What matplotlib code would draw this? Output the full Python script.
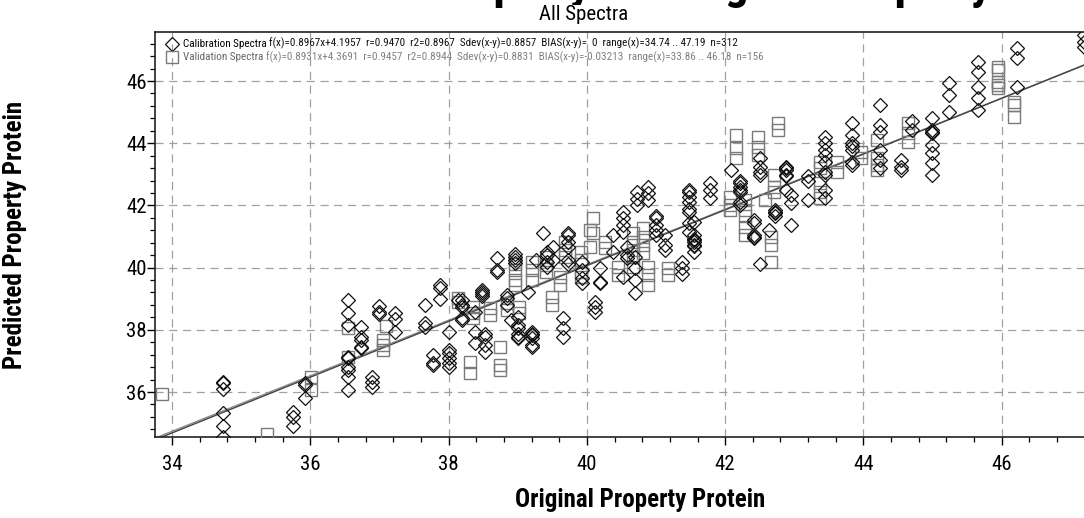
import matplotlib
matplotlib.use("Agg")
import matplotlib.pyplot as plt
import numpy as np
from matplotlib import font_manager
from matplotlib.ticker import MultipleLocator


def has_font(name):
    try:
        font_manager.findfont(name, fallback_to_default=False)
        return True
    except ValueError:
        return False


# prefer a condensed face; fall back to regular Liberation Sans with smaller sizes
narrow = next((f for f in ["Liberation Sans Narrow", "Roboto Condensed", "Open Sans Condensed",
                           "Arial Narrow"] if has_font(f)), None)
if narrow:
    plt.rcParams["font.family"] = [narrow, "Liberation Sans", "DejaVu Sans"]
    fs_tick, fs_leg, fs_lab, fs_sub = 15, 8.0, 18, 15
else:
    plt.rcParams["font.family"] = ["Liberation Sans", "DejaVu Sans"]
    fs_tick, fs_leg, fs_lab, fs_sub = 14, 6.4, 15, 13

# calibration set (diamonds), one line per x column
cal_x = [
    34.74, 34.74, 34.74, 34.74, 34.74, 34.74,
    35.75, 35.75, 35.75,
    35.92, 35.92, 35.92,
    36.55, 36.55, 36.55, 36.55, 36.55, 36.55, 36.55, 36.55, 36.55,
    36.73, 36.73, 36.73, 36.73, 36.73,
    36.89, 36.89, 36.89,
    37.00, 37.00, 37.00,
    37.22, 37.22, 37.22,
    37.66, 37.66, 37.66,
    37.77, 37.77, 37.77,
    37.88, 37.88, 37.88,
    38.01, 38.01, 38.01, 38.01, 38.01, 38.01,
    38.14,
    38.19, 38.19, 38.19, 38.19, 38.19,
    38.38, 38.38, 38.38,
    38.48, 38.48, 38.48, 38.48,
    38.52, 38.52, 38.52, 38.52,
    38.70, 38.70, 38.70,
    38.84, 38.84, 38.84,
    38.90,
    38.96, 38.96, 38.96, 38.96,
    39.00, 39.00, 39.00, 39.00, 39.00, 39.00,
    39.15,
    39.20, 39.20, 39.20, 39.20, 39.20, 39.20,
    39.27,
    39.36,
    39.42, 39.42, 39.42, 39.42,
    39.51, 39.51,
    39.65, 39.65, 39.65,
    39.72, 39.72, 39.72, 39.72, 39.72, 39.72,
    39.93, 39.93, 39.93, 39.93,
    40.12, 40.12, 40.12,
    40.19, 40.19, 40.19,
    40.38, 40.38,
    40.52, 40.52, 40.52, 40.52, 40.52,
    40.58, 40.58, 40.58,
    40.70, 40.70, 40.70, 40.70,
    40.72, 40.72, 40.72,
    40.88, 40.88, 40.88,
    41.00, 41.00, 41.00, 41.00, 41.00,
    41.13, 41.13, 41.13,
    41.37, 41.37, 41.37,
    41.47, 41.47, 41.47, 41.47, 41.47, 41.47, 41.47, 41.47,
    41.55, 41.55, 41.55, 41.55, 41.55, 41.55, 41.55, 41.55,
    41.78, 41.78, 41.78,
    42.09,
    42.22, 42.22, 42.22, 42.22, 42.22, 42.22, 42.22,
    42.42, 42.42, 42.42, 42.42, 42.42,
    42.50,
    42.51, 42.51, 42.51, 42.51,
    42.64,
    42.72, 42.72, 42.72, 42.72,
    42.88, 42.88, 42.88, 42.88, 42.88, 42.88,
    42.95, 42.95, 42.95,
    43.20, 43.20, 43.20,
    43.45, 43.45, 43.45, 43.45, 43.45, 43.45, 43.45, 43.45, 43.45,
    43.84, 43.84, 43.84, 43.84, 43.84, 43.84, 43.84,
    44.24, 44.24, 44.24, 44.24, 44.24, 44.24,
    44.55, 44.55, 44.55,
    44.70, 44.70,
    44.99, 44.99, 44.99, 44.99, 44.99, 44.99, 44.99, 44.99,
    45.23, 45.23, 45.23,
    45.66, 45.66, 45.66, 45.66, 45.66,
    46.22, 46.22, 46.22,
    47.19, 47.19, 47.19,
]
cal_y = [
    36.33, 36.28, 36.09, 35.31, 34.91, 34.56,
    35.37, 35.21, 34.91,
    36.28, 36.23, 35.80,
    38.96, 38.53, 38.15, 37.13, 37.08, 36.81, 36.71, 36.49, 36.06,
    38.10, 37.78, 37.67, 37.46, 37.41,
    36.49, 36.33, 36.17,
    38.77, 38.58, 38.51,
    38.55, 38.34, 37.94,
    38.80, 38.21, 38.10,
    37.19, 36.92, 36.87,
    39.44, 39.33, 38.98,
    37.94, 37.35, 37.24, 37.08, 36.92, 36.81,
    38.95,
    38.96, 38.80, 38.74, 38.38, 38.32,
    38.58, 37.94, 37.56,
    39.28, 39.22, 39.15, 39.10,
    37.78, 37.51, 37.30, 37.88,
    40.30, 39.92, 39.87,
    38.80, 39.12, 39.02,
    38.32,
    40.45, 40.35, 40.25, 40.15,
    38.42, 38.15, 38.05, 37.88, 37.78, 37.73,
    39.22,
    37.94, 37.88, 37.83, 37.73, 37.51, 37.46,
    40.24,
    41.10,
    40.51, 40.40, 40.19, 40.03,
    40.67, 40.24,
    38.38, 38.05, 37.77,
    41.10, 41.05, 40.83, 40.67, 40.24, 40.13,
    40.19, 39.92, 39.67, 39.50,
    38.90, 38.74, 38.58,
    39.98, 39.55, 39.50,
    41.05, 40.50,
    41.80, 41.58, 41.37, 41.15, 39.71,
    40.67, 40.40, 40.30,
    40.35, 39.98, 39.60, 39.17,
    42.44, 42.22, 42.01,
    42.60, 42.39, 42.17,
    41.65, 41.60, 41.21, 41.05, 41.37,
    41.05, 40.73, 40.57,
    40.19, 39.98, 39.81,
    42.49, 42.44, 42.28, 42.12, 41.90, 41.80, 41.42, 41.15,
    40.89, 40.83, 40.92, 40.73, 40.70, 40.51, 41.05, 41.47,
    42.71, 42.49, 42.23,
    43.14,
    42.60, 42.71, 42.49, 42.77, 42.44, 42.12, 42.01,
    41.42, 41.53, 41.05, 41.00, 40.94,
    40.13,
    43.52, 43.25, 43.09, 42.98,
    41.21,
    41.85, 41.80, 41.65, 41.75,
    42.98, 43.25, 43.20, 43.14, 42.93, 42.49,
    42.33, 42.07, 41.37,
    42.93, 42.77, 42.17,
    44.21, 44.00, 43.62, 43.41, 42.98, 43.78, 43.09, 42.49, 42.23,
    44.64, 44.26, 43.90, 43.78, 44.00, 43.41, 43.31,
    45.23, 44.58, 44.37, 43.78, 43.46, 43.20,
    43.46, 43.25, 43.14,
    44.70, 44.43,
    44.80, 44.43, 44.37, 44.32, 43.94, 43.67, 43.35, 42.98,
    45.93, 45.55, 45.01,
    46.62, 46.30, 45.82, 45.44, 45.07,
    47.05, 46.73, 45.82,
    47.48, 47.26, 47.10,
]

# validation set (squares)
val_x = [
    33.86,
    35.37,
    36.01, 36.01,
    36.55, 36.55,
    37.05, 37.05, 37.05,
    37.10,
    38.14, 38.14,
    38.31, 38.31,
    38.35, 38.35, 38.35,
    38.60, 38.60,
    38.74, 38.74, 38.74,
    38.84, 38.84,
    38.96, 38.96, 38.96, 38.96,
    39.02, 39.02,
    39.20, 39.20, 39.20,
    39.41, 39.41, 39.41,
    39.49, 39.49,
    39.61, 39.61,
    39.68, 39.68, 39.68,
    39.92, 39.92, 39.92, 39.92,
    40.04, 40.04,
    40.09, 40.09,
    40.26, 40.26,
    40.45, 40.45,
    40.67, 40.67, 40.67, 40.67, 40.67,
    40.81, 40.81, 40.81, 40.81,
    40.88, 40.88, 40.88,
    41.17, 41.17,
    42.07, 42.07, 42.07,
    42.16, 42.16, 42.16,
    42.28, 42.28, 42.28, 42.28, 42.28,
    42.47, 42.47, 42.47,
    42.58,
    42.66, 42.66, 42.66,
    42.70, 42.70, 42.70,
    42.76, 42.76,
    43.37, 43.37, 43.37, 43.37, 43.37,
    43.61, 43.61,
    43.97, 43.97,
    44.20, 44.20, 44.20, 44.20,
    44.64, 44.64, 44.64,
    45.95, 45.95, 45.95, 45.95, 45.95,
    46.18, 46.18, 46.18,
]
val_y = [
    35.95,
    34.64,
    36.49, 36.06,
    38.05, 37.13,
    37.67, 37.51, 37.35,
    38.13,
    39.02, 38.90,
    36.97, 36.62,
    38.74, 38.53, 38.37,
    38.70, 38.47,
    37.46, 36.87, 36.71,
    38.86, 38.64,
    40.13, 39.92, 39.60, 39.44,
    38.74, 38.53,
    40.19, 39.92, 39.60,
    40.35, 40.08, 39.87,
    39.07, 38.80,
    39.71, 39.44,
    40.83, 40.57, 40.35,
    40.51, 40.24, 39.87, 39.71,
    41.20, 40.67,
    41.58, 41.10,
    40.83, 40.62,
    40.03, 39.76,
    41.10, 40.83, 40.57, 40.35, 40.03,
    41.26, 41.00, 40.73, 40.46,
    40.03, 39.76, 39.44,
    39.98, 39.76,
    42.28, 42.01, 41.85,
    44.26, 43.84, 43.52,
    42.17, 41.85, 41.65, 41.32, 41.05,
    44.21, 43.89, 43.62,
    42.17,
    41.00, 40.73, 40.19,
    42.60, 42.44, 42.97,
    44.64, 44.43,
    42.71, 42.44, 42.23, 43.20, 43.41,
    43.41, 43.09,
    43.73, 43.52,
    44.10, 43.52, 43.30, 43.14,
    44.64, 44.32, 44.05,
    46.46, 46.35, 45.98, 45.87, 45.77,
    45.33, 45.23, 44.85,
]

# fitted lines and statistics for each set
cal_fit = (0.8967, 4.1957)
val_fit = (0.8931, 4.3691)
cal_stats = "f(x)=0.8967x+4.1957  r=0.9470  r2=0.8967  Sdev(x-y)=0.8857  BIAS(x-y)=  0  range(x)=34.74 .. 47.19  n=312"
val_stats = "f(x)=0.8931x+4.3691  r=0.9457  r2=0.8944  Sdev(x-y)=0.8831  BIAS(x-y)=-0.03213  range(x)=33.86 .. 46.18  n=156"

fig = plt.figure(figsize=(10.84, 5.18), dpi=100)
ax = fig.add_axes([155 / 1084, 81 / 518, 965 / 1084, 405 / 518])
ax.set_xlim(33.754, 47.71)
ax.set_ylim(34.553, 47.576)

ax.grid(True, which="major", color="#a0a0a0", linestyle=(0, (6.5, 4.5)), linewidth=0.9)
ax.set_axisbelow(True)

xl = np.array(ax.get_xlim())
ax.plot(xl, val_fit[0] * xl + val_fit[1], color="#8a8a8a", lw=1.0, zorder=2)
ax.plot(xl, cal_fit[0] * xl + cal_fit[1], color="#444444", lw=1.0, zorder=2)

ax.plot(val_x, val_y, linestyle="none", marker="s", markersize=8.2,
        markerfacecolor="none", markeredgecolor="#7a7a7a", markeredgewidth=1.0, zorder=3)
ax.plot(cal_x, cal_y, linestyle="none", marker="D", markersize=6.8,
        markerfacecolor="none", markeredgecolor="#111111", markeredgewidth=0.9, zorder=4)

for s in ["left", "bottom", "top"]:
    ax.spines[s].set_linewidth(1.2)
    ax.spines[s].set_color("#222222")
ax.spines["right"].set_visible(False)

ax.xaxis.set_major_locator(MultipleLocator(2))
ax.xaxis.set_minor_locator(MultipleLocator(0.4))
ax.yaxis.set_major_locator(MultipleLocator(2))
ax.yaxis.set_minor_locator(MultipleLocator(0.4))
ax.tick_params(axis="both", which="major", direction="out", length=6, width=1.0, labelsize=fs_tick)
ax.tick_params(axis="both", which="minor", direction="out", length=3.5, width=0.9)
ax.tick_params(axis="x", which="major", pad=7)
ax.tick_params(axis="y", which="major", pad=0)

# legend rows drawn in axes coordinates
row1, row2 = 0.9716, 0.9383
ax.plot([0.0176], [row1], transform=ax.transAxes, marker="D", markersize=6.8,
        markerfacecolor="none", markeredgecolor="#111111", markeredgewidth=0.9, clip_on=False)
ax.plot([0.0176], [row2], transform=ax.transAxes, marker="s", markersize=8.2,
        markerfacecolor="none", markeredgecolor="#7a7a7a", markeredgewidth=1.0, clip_on=False)
t1 = ax.text(0.029, row1, "Calibration Spectra ", transform=ax.transAxes,
             fontsize=fs_leg, color="black", va="center")
ax.annotate(cal_stats, xycoords=t1, xy=(1, 0.5), va="center", fontsize=fs_leg, color="#111111")
t2 = ax.text(0.029, row2, "Validation Spectra ", transform=ax.transAxes,
             fontsize=fs_leg, color="#666666", va="center")
ax.annotate(val_stats, xycoords=t2, xy=(1, 0.5), va="center", fontsize=fs_leg, color="#808080")

fig.text(0.565, 1 + 1.5 / 518, "Predicted Property vs. Original Property",
         ha="center", va="baseline", fontsize=34, fontweight="bold")
fig.text(584 / 1084, 1 - 15 / 518, "All Spectra", ha="center", va="center", fontsize=fs_sub,
         bbox=dict(facecolor="white", edgecolor="none", pad=0.5))
fig.text(640 / 1084, 1 - 500 / 518, "Original Property Protein", ha="center", va="center",
         fontsize=fs_lab, fontweight="bold")
fig.text(15 / 1084, 1 - 235 / 518, "Predicted Property Protein", ha="center", va="center",
         rotation=90, fontsize=fs_lab, fontweight="bold")

fig.savefig("out.png", dpi=100)
